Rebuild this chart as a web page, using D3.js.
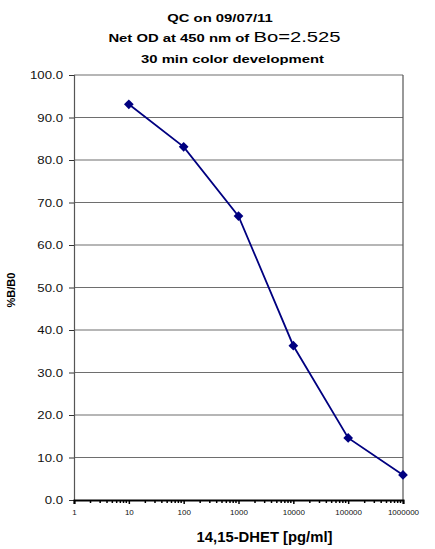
<!DOCTYPE html>
<html>
<head>
<meta charset="utf-8">
<script src="https://cdn.jsdelivr.net/npm/d3@7"></script>
<style>
  body { margin: 0; background: #fff; }
  text { font-family: Arial, "Liberation Sans", sans-serif; }
</style>
</head>
<body>
<svg width="435" height="549"></svg>
<script>
// data
var concentrations = [10, 100, 1000, 10000, 100000, 1000000];
var percentBB0 = [93.1, 83.1, 66.8, 36.3, 14.6, 5.9];
var xTickValues = [1, 10, 100, 1000, 10000, 100000, 1000000];
var yTickValues = [0, 10, 20, 30, 40, 50, 60, 70, 80, 90, 100];

var svg = d3.select('svg');
var plot = {l: 74, r: 403, t: 75, b: 500};

var xScale = d3.scaleLog().domain([1, 1000000]).range([plot.l, plot.r]);
var yScale = d3.scaleLinear().domain([0, 100]).range([plot.b, plot.t]);

// the original text looks stretched sideways
var stretch = 1.35;

// gridlines
svg.append('g')
    .selectAll('line')
    .data(yTickValues.filter(function(d){ return d > 0; }))
    .enter()
    .append('line')
    .attr('x1', plot.l).attr('x2', plot.r)
    .attr('y1', function(d){ return yScale(d); })
    .attr('y2', function(d){ return yScale(d); })
    .attr('stroke', '#6e6e6e')
    .attr('stroke-width', 1.2);

// right border of plot area
svg.append('line')
    .attr('x1', plot.r).attr('x2', plot.r)
    .attr('y1', plot.t).attr('y2', plot.b)
    .attr('stroke', '#555').attr('stroke-width', 1.2);

// y axis
var yAxis = d3.axisLeft(yScale)
    .tickValues(yTickValues)
    .tickFormat(d3.format('.1f'))
    .tickSize(5);
var yG = svg.append('g')
    .attr('transform', 'translate(' + plot.l + ',0)')
    .call(yAxis);
yG.select('.domain').attr('stroke', '#555').attr('stroke-width', 1.2);
yG.selectAll('.tick line').attr('stroke', '#333');
yG.selectAll('text')
    .attr('x', 0)
    .attr('dy', '0.36em')
    .attr('transform', 'translate(-11,0) scale(1.32,1)')
    .attr('font-family', 'Arial, "Liberation Sans", sans-serif')
    .attr('font-size', 10)
    .attr('fill', '#111');

// x axis: major ticks with labels
var xAxis = d3.axisBottom(xScale)
    .tickValues(xTickValues)
    .tickFormat(d3.format('d'))
    .tickSize(4)
    .tickPadding(5);
var xG = svg.append('g')
    .attr('transform', 'translate(0,' + plot.b + ')')
    .call(xAxis);
xG.select('.domain').attr('stroke', '#000').attr('stroke-width', 2);
xG.selectAll('.tick line').attr('stroke', '#000').attr('stroke-width', 1.5);
xG.selectAll('text')
    .attr('font-family', 'Arial, "Liberation Sans", sans-serif')
    .attr('font-size', 8)
    .attr('fill', '#111');

// x axis minor ticks
var minorTicks = [];
for (var dec = 1; dec < 1000000; dec *= 10) {
    for (var m = 2; m <= 9; m++) minorTicks.push(dec * m);
}
svg.append('g')
    .selectAll('line')
    .data(minorTicks)
    .enter()
    .append('line')
    .attr('x1', function(d){ return xScale(d); })
    .attr('x2', function(d){ return xScale(d); })
    .attr('y1', plot.b).attr('y2', plot.b + 3)
    .attr('stroke', '#000').attr('stroke-width', 1.5);

// data line
var line = d3.line()
    .x(function(d, i){ return xScale(concentrations[i]); })
    .y(function(d){ return yScale(d); });
svg.append('path')
    .datum(percentBB0)
    .attr('d', line)
    .attr('fill', 'none')
    .attr('stroke', '#000080')
    .attr('stroke-width', 1.8);

// diamond markers
svg.append('g')
    .selectAll('path')
    .data(percentBB0)
    .enter()
    .append('path')
    .attr('d', d3.symbol().type(d3.symbolDiamond2).size(60))
    .attr('transform', function(d, i){
        return 'translate(' + [xScale(concentrations[i]), yScale(d)] + ')';
    })
    .attr('fill', '#000080');

// titles (stretched horizontally like the original)
function titleLine(x, y) {
    return svg.append('text')
        .attr('transform', 'translate(' + [x, y] + ') scale(' + stretch + ',1)')
        .attr('text-anchor', 'middle')
        .attr('font-size', 11).attr('font-weight', 'bold');
}
titleLine(220, 22).text('QC on 09/07/11');
var t2 = titleLine(224.5, 42);
t2.append('tspan').text('Net OD at 450 nm of ');
t2.append('tspan').attr('font-size', 15).attr('font-weight', 'normal').text('Bo=2.525');
titleLine(232.5, 63).text('30 min color development');

// axis titles
svg.append('text')
    .attr('transform', 'translate(' + [15, 290] + ')rotate(-90)')
    .attr('text-anchor', 'middle')
    .attr('font-size', 11).attr('font-weight', 'bold')
    .text('%B/B0');

svg.append('text')
    .attr('transform', 'translate(' + [264.5, 542] + ') scale(1.06,1)')
    .attr('text-anchor', 'middle')
    .attr('font-size', 14).attr('font-weight', 'bold')
    .text('14,15-DHET [pg/ml]');
</script>
</body>
</html>
